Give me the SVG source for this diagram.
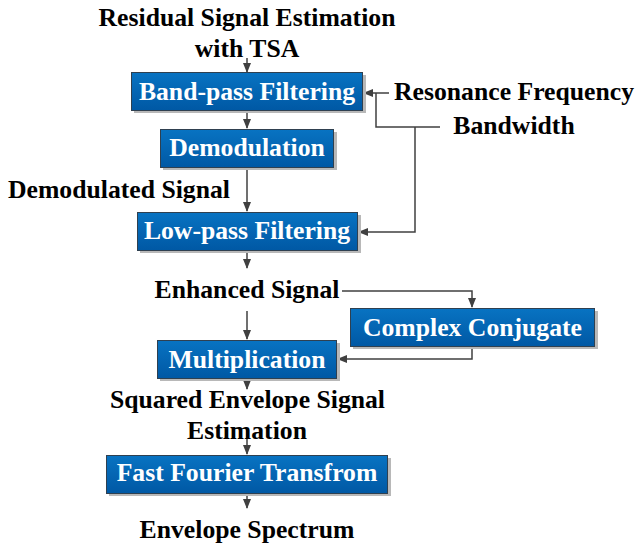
<svg xmlns="http://www.w3.org/2000/svg" width="636" height="548" viewBox="0 0 636 548">
<defs>
<linearGradient id="bg" x1="0" y1="0" x2="0" y2="1">
<stop offset="0" stop-color="#0873c2"/>
<stop offset="1" stop-color="#0058a4"/>
</linearGradient>
<marker id="ah" markerWidth="10" markerHeight="8" refX="9" refY="4" orient="auto" markerUnits="userSpaceOnUse">
<path d="M0,0 L10,4 L0,8 Z" fill="#404040"/>
</marker>
</defs>
<style>
.box{fill:url(#bg);stroke:#2f4050;stroke-width:1}
.sh{fill:#b8b8b8}
.bt{font-family:"Liberation Serif","Times New Roman",serif;font-weight:bold;font-size:25.7px;fill:#ffffff;text-anchor:middle}
.lt{font-family:"Liberation Serif","Times New Roman",serif;font-weight:bold;font-size:25.7px;fill:#000000;text-anchor:middle}
.ln{fill:none;stroke:#404040;stroke-width:1.5}
.ar{marker-end:url(#ah)}
</style>
<g id="connectors">
<path class="ln ar" d="M247,58 V72"/>
<path class="ln ar" d="M247,111 V128"/>
<path class="ln ar" d="M247,167 V211"/>
<path class="ln ar" d="M247,250 V268"/>
<path class="ln ar" d="M247,311 V339"/>
<path class="ln ar" d="M342,291 H472 V307"/>
<path class="ln ar" d="M472,346 V359 H338"/>
<path class="ln ar" d="M247,378 V389"/>
<path class="ln ar" d="M247,428 V454"/>
<path class="ln ar" d="M247,493 V508"/>
<path class="ln ar" d="M389,93 H364"/>
<path class="ln" d="M440,127 H376 V93"/>
<path class="ln ar" d="M415,127 V232 H359"/>
</g>
<g id="label-residual">
<text class="lt" x="247" y="26">Residual Signal Estimation</text>
<text class="lt" x="247" y="57">with TSA</text>
</g>
<g id="node-bandpass">
<rect class="sh" x="134" y="75" width="232" height="38"/>
<rect class="box" x="131.5" y="72.5" width="231" height="38"/>
<text class="bt" x="247" y="100">Band-pass Filtering</text>
</g>
<g id="label-resonance">
<text class="lt" x="514" y="100">Resonance Frequency</text>
</g>
<g id="label-bandwidth">
<text class="lt" x="514" y="134">Bandwidth</text>
</g>
<g id="node-demodulation">
<rect class="sh" x="163" y="132" width="174" height="38"/>
<rect class="box" x="160.5" y="129.5" width="173" height="38"/>
<text class="bt" x="247" y="156">Demodulation</text>
</g>
<g id="label-demodulated">
<text class="lt" x="119" y="198">Demodulated Signal</text>
</g>
<g id="node-lowpass">
<rect class="sh" x="140" y="215" width="221" height="38"/>
<rect class="box" x="137.5" y="212.5" width="220" height="38"/>
<text class="bt" x="247" y="239">Low-pass Filtering</text>
</g>
<g id="label-enhanced">
<text class="lt" x="247" y="298">Enhanced Signal</text>
</g>
<g id="node-conjugate">
<rect class="sh" x="353" y="311" width="245" height="38"/>
<rect class="box" x="350.5" y="308.5" width="244" height="38"/>
<text class="bt" x="472.5" y="336">Complex Conjugate</text>
</g>
<g id="node-multiplication">
<rect class="sh" x="160" y="343" width="180" height="38"/>
<rect class="box" x="157.5" y="340.5" width="179" height="38"/>
<text class="bt" x="247" y="368">Multiplication</text>
</g>
<g id="label-squared">
<text class="lt" x="247.5" y="408">Squared Envelope Signal</text>
<text class="lt" x="247" y="439">Estimation</text>
</g>
<g id="node-fft">
<rect class="sh" x="109" y="458" width="282" height="38"/>
<rect class="box" x="106.5" y="455.5" width="281" height="38"/>
<text class="bt" x="247" y="481">Fast Fourier Transfrom</text>
</g>
<g id="label-spectrum">
<text class="lt" x="247" y="538">Envelope Spectrum</text>
</g>
</svg>
